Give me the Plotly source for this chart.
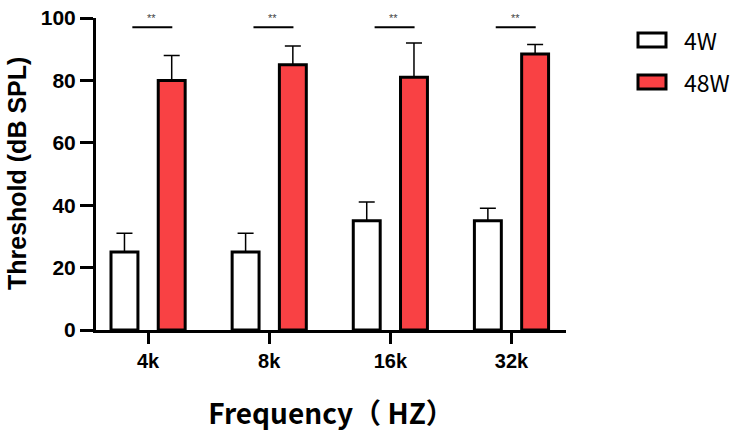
import plotly.graph_objects as go

# data
freqs = ["4k", "8k", "16k", "32k"]
w4_mean = [25, 25, 35, 35]
w4_sd = [6, 6, 6, 4]
w48_mean = [80, 85, 81, 88.5]
w48_sd = [8, 6, 11, 3]
sig_y = [97, 97, 97, 97]
sig_txt = ["**", "**", "**", "**"]
groups = ["4W", "48W"]
colors = ["white", "#F94144"]

W, H = 750, 437
L, R, T, B = 96, 184, 18, 107

fig = go.Figure()
for name, m, s, c in zip(groups, [w4_mean, w48_mean], [w4_sd, w48_sd], colors):
    fig.add_trace(go.Bar(
        x=freqs, y=m, name=name,
        marker=dict(color=c, line=dict(color="black", width=3)),
        error_y=dict(type="data", array=s, arrayminus=[0] * len(s), symmetric=False,
                     color="black", thickness=1.5, width=8),
        showlegend=False,
    ))

# significance brackets
for i, (yv, t) in enumerate(zip(sig_y, sig_txt)):
    fig.add_shape(type="line", xref="x", yref="y", x0=i - 0.13, x1=i + 0.20, y0=yv, y1=yv,
                  line=dict(color="black", width=2))
    fig.add_annotation(x=i + 0.03, y=yv, xref="x", yref="y", text=t, showarrow=False,
                       yshift=9, font=dict(size=11, color="#444"))

# legend drawn by hand so the swatches match (pixel coords)
pw = W - L - R
ph = H - T - B
def px(x):
    return (x - L) / pw
def py(y):
    return (H - B - y) / ph

for k, (name, c) in enumerate(zip(groups, colors)):
    yc = 40 + k * 42
    fig.add_shape(type="rect", xref="paper", yref="paper",
                  x0=px(638), x1=px(666), y0=py(yc + 7), y1=py(yc - 7),
                  fillcolor=c, line=dict(color="black", width=3))
    fig.add_annotation(xref="paper", yref="paper", x=px(682), y=py(yc), text=name,
                       showarrow=False, xanchor="left", yanchor="middle",
                       font=dict(size=23, color="black", family="Noto Sans CJK SC"))

# y axis title
fig.add_annotation(xref="paper", yref="paper", x=px(17), y=py(174), text="Threshold (dB SPL)",
                   textangle=-90, showarrow=False, xanchor="center", yanchor="middle",
                   font=dict(size=25, weight="bold", color="black"))

fig.update_layout(
    width=W, height=H,
    margin=dict(l=L, r=R, t=T, b=B, autoexpand=False),
    plot_bgcolor="white", paper_bgcolor="white",
    barmode="group", bargap=0.22, bargroupgap=0.43,
    font=dict(family="Liberation Sans", color="black"),
    xaxis=dict(
        range=[-0.43, 3.45], showline=True, linecolor="black", linewidth=3,
        ticks="outside", ticklen=11, tickwidth=3, tickcolor="black",
        tickfont=dict(size=20, weight="bold"), automargin=False,
        title=dict(text="Frequency\uff08 HZ\uff09",
                   font=dict(size=28, weight="bold", family="Noto Sans CJK SC"), standoff=34),
    ),
    yaxis=dict(
        range=[0, 100], dtick=20, showline=True, linecolor="black", linewidth=3,
        ticks="outside", ticklen=13, tickwidth=3, tickcolor="black",
        showgrid=False, zeroline=False, automargin=False, ticklabeloverflow="allow",
        tickfont=dict(size=21, weight="bold"),
    ),
)

# drop the default body margin so the figure sits at the window corner
fig.write_html("out.html", config={"displayModeBar": False},
               post_script="document.body.style.margin='0';")
